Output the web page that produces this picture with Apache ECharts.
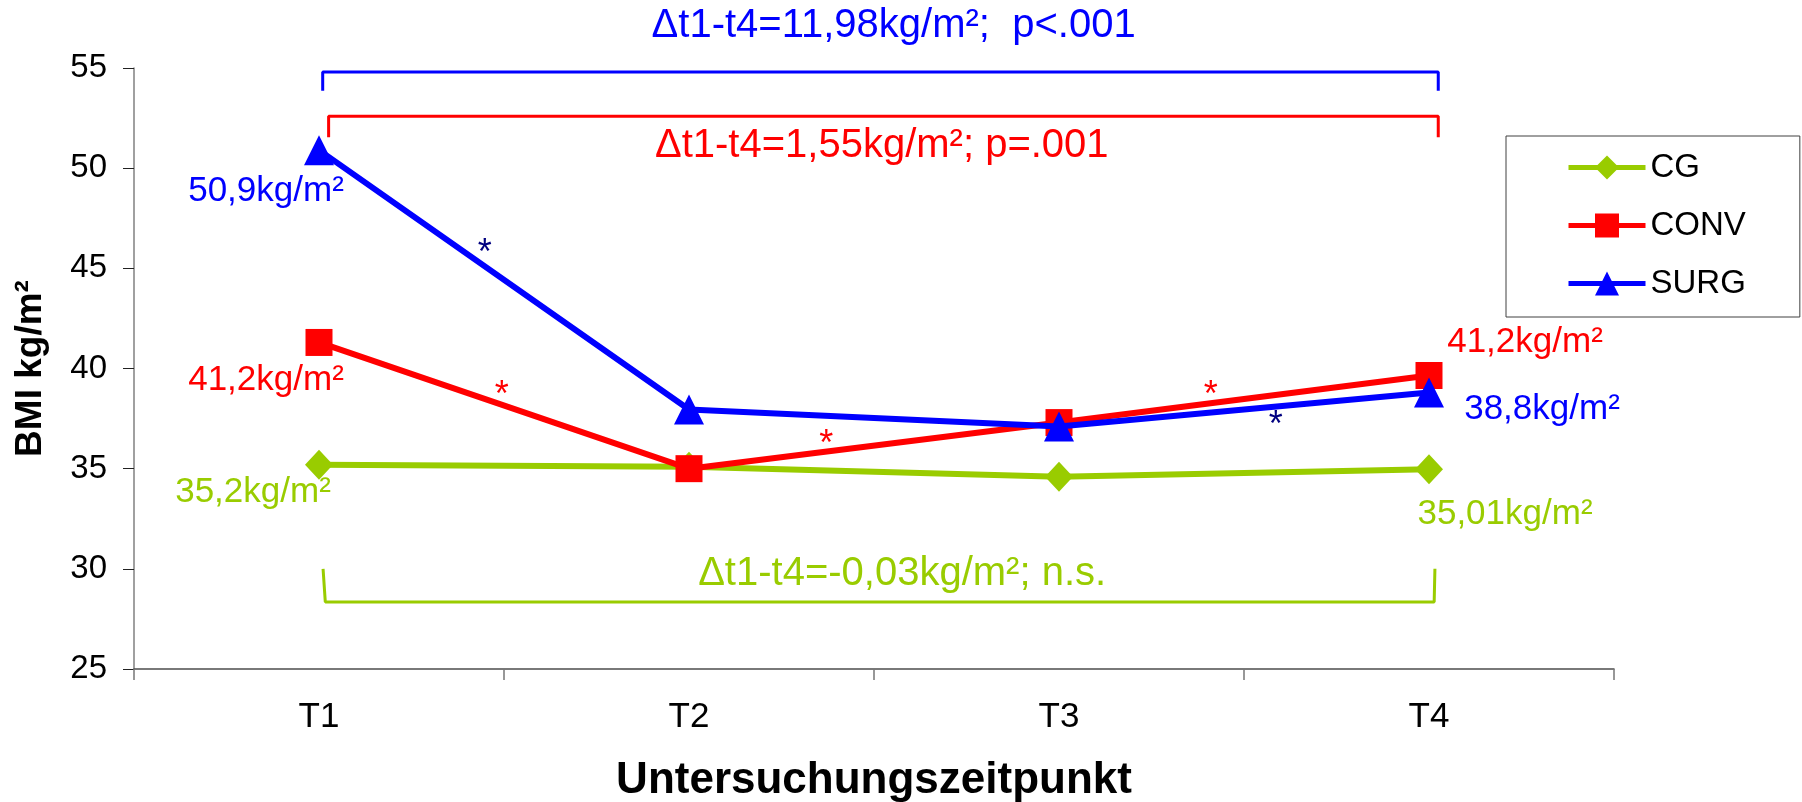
<!DOCTYPE html>
<html><head><meta charset="utf-8">
<script src="https://cdn.jsdelivr.net/npm/echarts@6/dist/echarts.min.js"></script>
<style>html,body{margin:0;padding:0;background:#fff}#c{width:1802px;height:802px}</style>
</head><body><div id="c"></div>
<script>
// ---- data ----
const categories = ['T1', 'T2', 'T3', 'T4'];
const seriesNames = ['CG', 'CONV', 'SURG'];
const cgValues = [35.2, 35.1, 34.6, 34.97];
const convValues = [41.3, 35.0, 37.3, 39.65];
const surgValues = [50.9, 37.95, 37.1, 38.8];
const yTicks = [25, 30, 35, 40, 45, 50, 55];
const endLabelsCG = ['35,2kg/m²', '35,01kg/m²'];
const endLabelsCONV = ['41,2kg/m²', '41,2kg/m²'];
const endLabelsSURG = ['50,9kg/m²', '38,8kg/m²'];
const deltaTexts = ['Δt1-t4=11,98kg/m²;  p<.001', 'Δt1-t4=1,55kg/m²; p=.001', 'Δt1-t4=-0,03kg/m²; n.s.'];
const deltaAnchors = [[1.553, 57.08], [1.521, 51.12], [1.576, 29.73]];
const bracketSURG = [[0.010, 53.87], [0.010, 54.80], [3.025, 54.80], [3.025, 53.87]];
const bracketCONV = [[0.026, 51.54], [0.026, 52.59], [3.025, 52.59], [3.025, 51.54]];
const bracketCG = [[0.011, 30.0], [0.017, 28.35], [3.014, 28.35], [3.016, 30.0]];
const asteriskPoints = [[0.448, 46.09], [0.494, 39.03], [1.371, 36.59], [2.410, 39.01], [2.586, 37.51]];
const asteriskGroups = ['SURG', 'CONV', 'CONV', 'CONV', 'SURG'];

// ---- styles ----
const FONT = '"Liberation Sans", Arial, sans-serif';
const COLORS = { CG: '#99CC00', CONV: '#FF0000', SURG: '#0000FF' };
const STAR_COLORS = { CONV: '#FF0000', SURG: '#000080' };
const DELTA_COLORS = [COLORS.SURG, COLORS.CONV, COLORS.CG];
const SYMBOLS = { CG: 'diamond', CONV: 'rect', SURG: 'triangle' };
const SYMBOL_SIZES = { CG: [28, 30], CONV: 27, SURG: 30 };
const LABEL_OFFSETS = {
  CG: [[-66, 28], [76, 45]],
  CONV: [[-53, 38], [96, -33]],
  SURG: [[-53, 41], [113, 17]]
};
const END_LABELS = { CG: endLabelsCG, CONV: endLabelsCONV, SURG: endLabelsSURG };
const VALUES = { CG: cgValues, CONV: convValues, SURG: surgValues };

function lineSeries(name) {
  const vals = VALUES[name];
  const last = vals.length - 1;
  return {
    name: name, type: 'line', xAxisIndex: 0, yAxisIndex: 0,
    symbol: SYMBOLS[name], symbolSize: SYMBOL_SIZES[name],
    lineStyle: { color: COLORS[name], width: 6 },
    itemStyle: { color: COLORS[name] },
    z: 3 + seriesNames.indexOf(name),
    data: vals.map(function (v, i) {
      const item = { value: v };
      if (i === 0 || i === last) {
        const k = i === 0 ? 0 : 1;
        item.label = {
          show: true, position: 'inside', formatter: END_LABELS[name][k],
          offset: LABEL_OFFSETS[name][k], color: COLORS[name],
          fontSize: 35, fontFamily: FONT, align: 'center', verticalAlign: 'middle'
        };
      }
      return item;
    })
  };
}

function bracket(name, pts) {
  return {
    type: 'line', xAxisIndex: 1, yAxisIndex: 0, symbol: 'none', clip: false, silent: true,
    lineStyle: { color: COLORS[name], width: 3 }, data: pts, z: 2
  };
}

function textSeries(points, makeLabel) {
  return {
    type: 'scatter', xAxisIndex: 1, yAxisIndex: 0, clip: false, silent: true,
    symbolSize: 1, itemStyle: { color: 'rgba(0,0,0,0)', opacity: 1 }, z: 10,
    data: points.map(function (p, i) { return { value: p, label: makeLabel(i) }; })
  };
}

const option = {
  animation: false,
  backgroundColor: '#ffffff',
  grid: { left: 134, right: 188, top: 68, bottom: 133, containLabel: false, outerBoundsMode: 'none' },
  legend: {
    data: seriesNames, orient: 'vertical', left: 1506, top: 136,
    itemWidth: 77, itemHeight: 30, itemGap: 25,
    padding: [15, 54, 17, 60],
    borderColor: '#404040', borderWidth: 1, borderRadius: 0,
    lineStyle: { width: 5 },
    textStyle: { fontSize: 33, fontFamily: FONT, color: '#000' },
    selectedMode: false
  },
  xAxis: [{
    type: 'category', data: categories, boundaryGap: true,
    name: 'Untersuchungszeitpunkt', nameLocation: 'middle', nameGap: 90, nameMoveOverlap: false,
    nameTextStyle: { fontSize: 44, fontWeight: 'bold', fontFamily: FONT, color: '#000' },
    axisLine: { onZero: false, lineStyle: { color: '#4d4d4d', width: 1.5 } },
    axisTick: { show: true, length: 11, lineStyle: { color: '#777', width: 1.5 } },
    axisLabel: { fontSize: 35, fontFamily: FONT, color: '#000', margin: 31 },
    splitLine: { show: false }
  }, {
    type: 'value', min: -0.5, max: 3.5, show: false
  }],
  yAxis: {
    type: 'value', min: yTicks[0], max: yTicks[yTicks.length - 1], interval: yTicks[1] - yTicks[0],
    name: 'BMI kg/m²', nameLocation: 'middle', nameGap: 85, nameMoveOverlap: false,
    nameTextStyle: { fontSize: 37, fontWeight: 'bold', fontFamily: FONT, color: '#000' },
    axisLine: { show: true, onZero: false, lineStyle: { color: '#808080', width: 1.5 } },
    axisTick: { show: true, length: 11, lineStyle: { color: '#222', width: 1 } },
    axisLabel: { fontSize: 33, fontFamily: FONT, color: '#000', margin: 27 },
    splitLine: { show: false }
  },
  series: [
    bracket('SURG', bracketSURG),
    bracket('CONV', bracketCONV),
    bracket('CG', bracketCG),
    lineSeries('CG'), lineSeries('CONV'), lineSeries('SURG'),
    textSeries(deltaAnchors, function (i) {
      return {
        show: true, position: 'inside', formatter: deltaTexts[i], color: DELTA_COLORS[i],
        fontSize: 40, fontFamily: FONT, align: 'center', verticalAlign: 'middle'
      };
    }),
    textSeries(asteriskPoints, function (i) {
      return {
        show: true, position: 'inside', formatter: '*', color: STAR_COLORS[asteriskGroups[i]],
        fontSize: 36, fontFamily: FONT, align: 'center', verticalAlign: 'middle', offset: [0, 8]
      };
    })
  ]
};

const chart = echarts.init(document.getElementById('c'), null, { renderer: 'canvas' });
chart.setOption(option);
</script>
</body></html>
